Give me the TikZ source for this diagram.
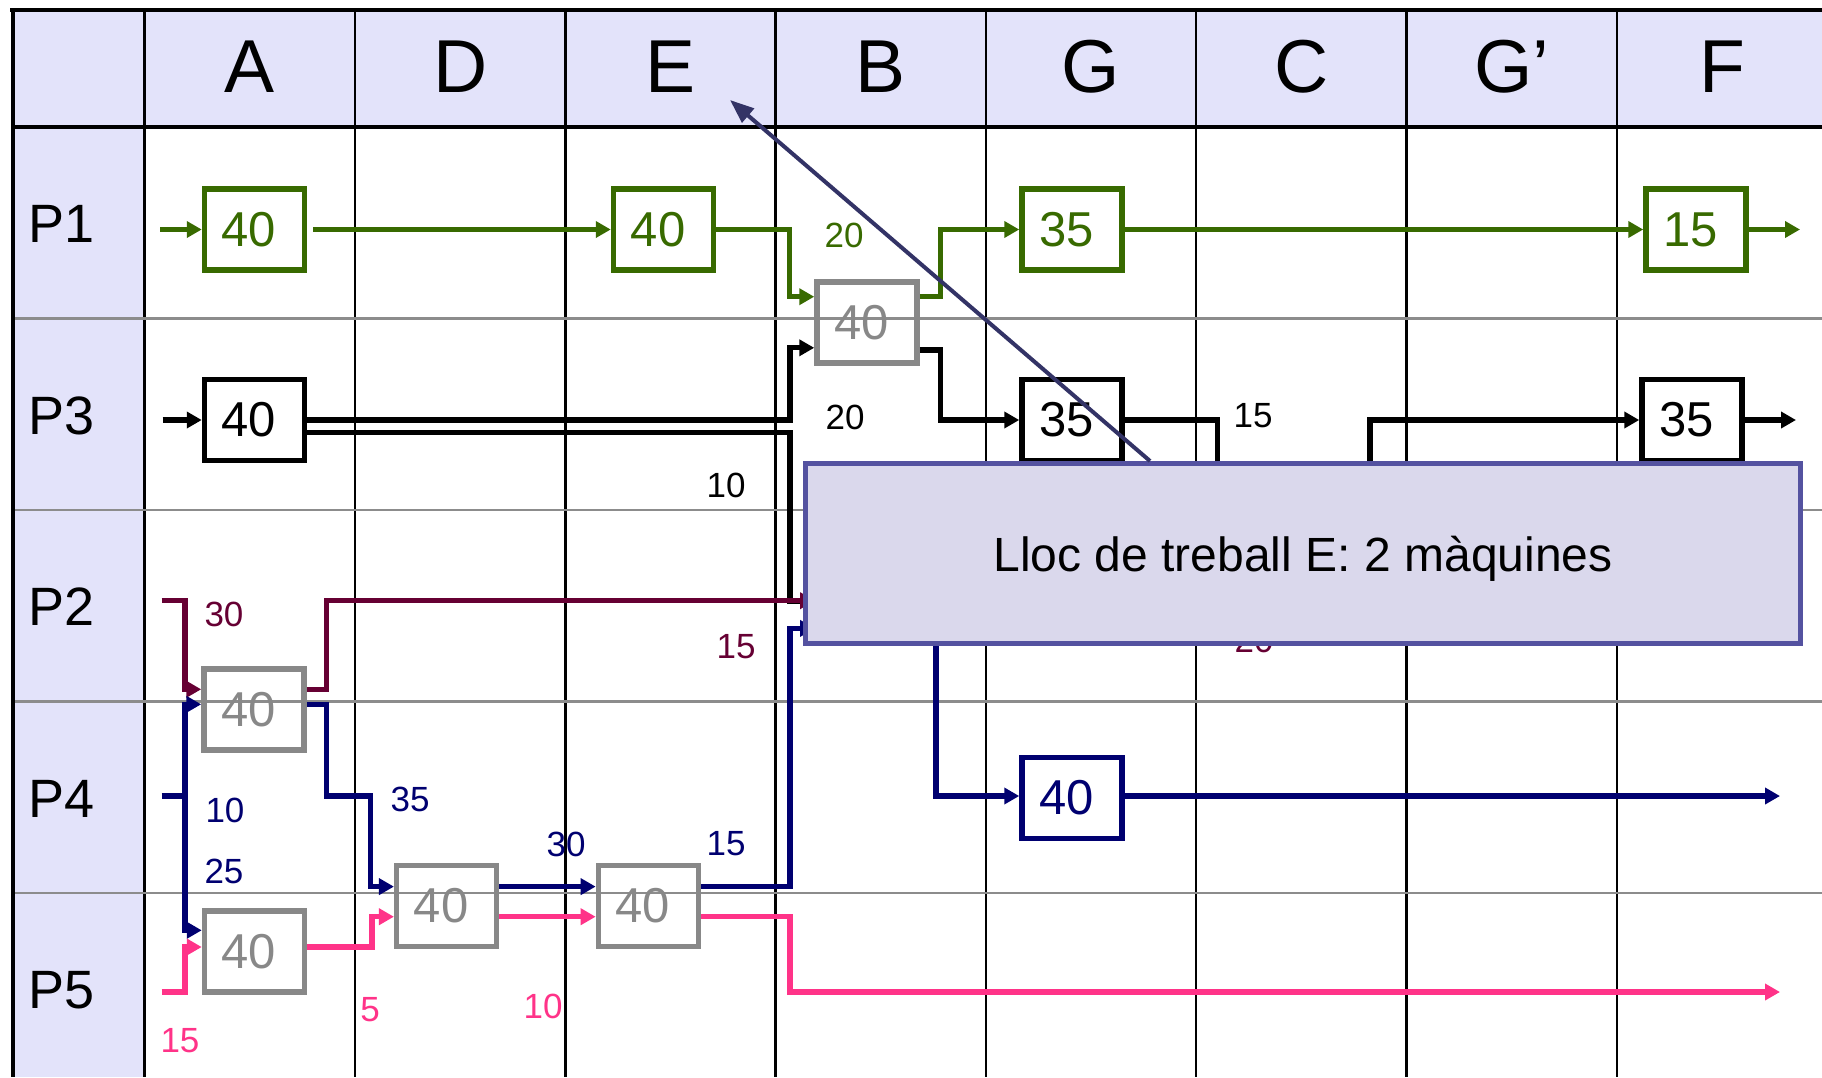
\documentclass[tikz,border=0pt]{standalone}
\usepackage{fontspec}
\setmainfont{Liberation Sans}
\usetikzlibrary{arrows.meta,calc}
\definecolor{hdr}{HTML}{E3E3FA}
\definecolor{grn}{HTML}{386A00}
\definecolor{mrn}{HTML}{660033}
\definecolor{nvy}{HTML}{000070}
\definecolor{pnk}{HTML}{FF3388}
\definecolor{gbox}{HTML}{888888}
\definecolor{gline}{HTML}{8C8C8C}
\definecolor{cfill}{HTML}{DAD8EC}
\definecolor{cedge}{HTML}{5452A0}
\definecolor{ptr}{HTML}{333366}
\begin{document}
\begin{tikzpicture}[x=1pt,y=-1pt,
  conn/.style={line width=5.3pt},
  witharrow/.style={-{Triangle[length=15pt,width=16pt]}},
  machine/.style={draw,line width=5.5pt,minimum width=100pt,minimum height=81pt,inner sep=0pt,font=\fontsize{49}{49}\selectfont,execute at begin node={\kern-11pt}},
  lbl/.style={font=\fontsize{35}{35}\selectfont,inner sep=0pt},
  hd/.style={font=\fontsize{75}{75}\selectfont,inner sep=0pt,anchor=base},
  rowlbl/.style={font=\fontsize{54}{54}\selectfont,inner sep=0pt,anchor=base},
]
\useasboundingbox (0,0) rectangle (1822,1077);
\clip (0,0) rectangle (1822,1077);
% backgrounds
\fill[hdr] (12,10) rectangle (1822,127);
\fill[hdr] (12,127) rectangle (144.7,1077);
% grid
\foreach \x in {144.7,355,565.3,775.6,985.9,1196.2,1406.5,1616.8}
  \draw[line width=2.5pt] (\x,10) -- (\x,1077);
\foreach \y in {318.5,510,701.5,893}
  \draw[gline,line width=2.7pt] (12,\y) -- (1822,\y);
\draw[line width=3.5pt] (12,127) -- (1822,127);
\draw[line width=4.5pt] (10.3,10) -- (1822,10);
\draw[line width=4pt] (12.5,8) -- (12.5,1077);
% header texts
\node[hd] (hA) at (249.85,92.3) {A};
\node[hd] (hD) at (460.15,92.3) {D};
\node[hd] (hE) at (670.45,92.3) {E};
\node[hd] (hB) at (880.75,92.3) {B};
\node[hd] (hG) at (1091.05,92.3) {G};
\node[hd] (hC) at (1301.35,92.3) {C};
\node[hd] (hGp) at (1511.65,92.3) {G’};
\node[hd] (hF) at (1722,92.3) {F};
\node[rowlbl] (rP1) at (62,242.8) {P1};
\node[rowlbl] (rP3) at (62,434) {P3};
\node[rowlbl] (rP2) at (62,625.7) {P2};
\node[rowlbl] (rP4) at (62,817) {P4};
\node[rowlbl] (rP5) at (62,1008.5) {P5};
% machines
\node[machine,grn,text=grn] (A1) at (254.5,229.5) {40};
\node[machine,grn,text=grn] (E1) at (663.5,229.5) {40};
\node[machine,gbox,text=gbox] (B) at (867,322.5) {40};
\node[machine,grn,text=grn] (G1) at (1072,229.5) {35};
\node[machine,grn,text=grn] (F1) at (1696,229.5) {15};
\node[machine] (A3) at (254.5,420) {40};
\node[machine] (G3) at (1072,420) {35};
\node[machine] (F3) at (1692,420) {35};
\node[machine,gbox,text=gbox] (A2) at (254,709.5) {40};
\node[machine,gbox,text=gbox] (D) at (446.7,906) {40};
\node[machine,gbox,text=gbox] (E) at (648.4,906) {40};
\node[machine,gbox,text=gbox] (A5) at (254.5,951.3) {40};
\node[machine,nvy,text=nvy] (G4) at (1072,798) {40};
% free ends
\coordinate (in1) at (160,229.5);
\coordinate (out1) at (1800,229.5);
\coordinate (in3) at (162.7,420);
\coordinate (out3) at (1796,420);
\coordinate (hidB3) at (815,601);
\coordinate (hidC3) at (1217.8,500);
\coordinate (hidG3) at (1370,500);
\coordinate (in2) at (161.7,600.7);
\coordinate (hidB2) at (815,600.7);
\coordinate (in4) at (161.7,796);
\coordinate (hidB4) at (815,628.4);
\coordinate (hidB4o) at (936,600);
\coordinate (out4) at (1780,796);
\coordinate (in5) at (161.7,992);
\coordinate (out5) at (1780,992);
% P1 green
\draw[conn,grn,witharrow] (in1) -- (A1.west);
\draw[conn,grn,witharrow] ([xshift=6pt]A1.east) -- (E1.west);
\draw[conn,grn,witharrow] (E1.east) -| (789.3,296.7) -- ($(B.west)+(0,-25.8)$);
\draw[conn,grn,witharrow] ($(B.east)+(0,-25.8)$) -| (940.7,229.5) -- (G1.west);
\draw[conn,grn,witharrow] (G1.east) -- (F1.west);
\draw[conn,grn,witharrow] (F1.east) -- (out1);
% P3 black
\draw[conn,witharrow] (in3) -- (A3.west);
\draw[conn,witharrow] (A3.east) -| (790,347.8) -- ($(B.west)+(0,25.3)$);
\draw[conn] ($(A3.east)+(0,12.5)$) -| (790,601) -- (hidB3);
\draw[conn,witharrow] ($(B.east)+(0,27.5)$) -| (940.7,420) -- (G3.west);
\draw[conn] (G3.east) -| (hidC3);
\draw[conn,witharrow] (hidG3) |- (F3.west);
\draw[conn,witharrow] (F3.east) -- (out3);
% P2 maroon
\draw[conn,mrn,witharrow] (in2) -| (185,689.3) -- ($(A2.west)+(0,-20.2)$);
\draw[conn,mrn,witharrow] ($(A2.east)+(0,-20.2)$) -| (326.7,600.7) -- (hidB2);
% P4 navy
\draw[conn,nvy] (in4) -- (185,796);
\draw[conn,nvy,witharrow] (185,797) |- ($(A2.west)+(0,-5.2)$);
\draw[conn,nvy,witharrow] (185,795) |- ($(A5.west)+(0,-21)$);
\draw[conn,nvy,witharrow] ($(A2.east)+(0,-5.2)$) -| (326.7,796) -| (370.7,886.6) -- ($(D.west)+(0,-19.4)$);
\draw[conn,nvy,witharrow] ($(D.east)+(0,-19.4)$) -- ($(E.west)+(0,-19.4)$);
\draw[conn,nvy,witharrow] ($(E.east)+(0,-19.4)$) -| (790,628.4) -- (hidB4);
\draw[conn,nvy,witharrow] (hidB4o) |- ($(G4.west)+(0,-2)$);
\draw[conn,nvy,witharrow] ($(G4.east)+(0,-2)$) -- (out4);
% P5 pink
\draw[conn,pnk,witharrow] (in5) -| (185,947) -- ($(A5.west)+(0,-4.3)$);
\draw[conn,pnk,witharrow] ($(A5.east)+(0,-4.3)$) -| (371.9,916.7) -- ($(D.west)+(0,10.7)$);
\draw[conn,pnk,witharrow] ($(D.east)+(0,10.7)$) -- ($(E.west)+(0,10.7)$);
\draw[conn,pnk,witharrow] ($(E.east)+(0,10.7)$) -| (790,992) -- (out5);
% labels
\node[lbl,grn] (t1) at (844,235) {20};
\node[lbl] (t2) at (845,417) {20};
\node[lbl] (t3) at (726,485) {10};
\node[lbl] (t4) at (1253,416) {15};
\node[lbl,mrn] (t5) at (224,614) {30};
\node[lbl,mrn] (t6) at (736,647) {15};
\node[lbl,mrn] (t7) at (1254,640.5) {20};
\node[lbl,nvy] (t8) at (225,810) {10};
\node[lbl,nvy] (t9) at (224,871) {25};
\node[lbl,nvy] (t10) at (410,799) {35};
\node[lbl,nvy] (t11) at (566,844) {30};
\node[lbl,nvy] (t12) at (726,844) {15};
\node[lbl,pnk] (t13) at (180,1041) {15};
\node[lbl,pnk] (t14) at (370,1010) {5};
\node[lbl,pnk] (t15) at (543,1006) {10};
% callout
\node[draw=cedge,fill=cfill,line width=5pt,minimum width=995pt,minimum height=180pt,inner sep=0pt,font=\fontsize{48}{48}\selectfont,text depth=0pt] (callout) at (1303,553.5) {Lloc de treball E: 2 màquines};
\coordinate (ptip) at (730,100);
\draw[ptr,line width=4pt,-{Triangle[length=24pt,width=18pt]}] ($(callout.north west)+(347,0)$) -- (ptip);
\end{tikzpicture}
\end{document}
